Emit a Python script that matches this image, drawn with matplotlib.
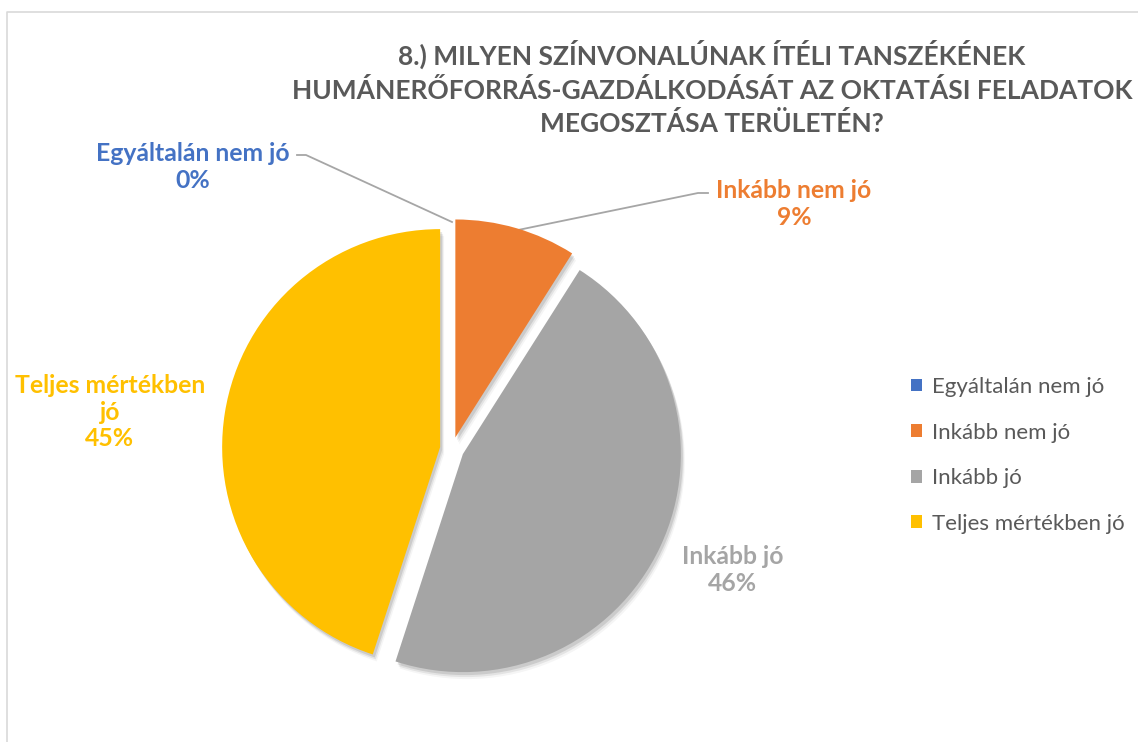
import matplotlib
matplotlib.use("Agg")
import matplotlib.pyplot as plt
from matplotlib.lines import Line2D
from matplotlib.patches import Patch, Wedge

categories = ["Egyáltalán nem jó", "Inkább nem jó", "Inkább jó", "Teljes mértékben jó"]
values = [0, 9, 46, 45]
colors = ["#4472C4", "#ED7D31", "#A5A5A5", "#FFC000"]
title_lines = ["8.) MILYEN SZÍNVONALÚNAK ÍTÉLI TANSZÉKÉNEK",
               "HUMÁNERŐFORRÁS-GAZDÁLKODÁSÁT AZ OKTATÁSI FELADATOK",
               "MEGOSZTÁSA TERÜLETÉN?"]

W, H = 1138, 742
fig = plt.figure(figsize=(W / 100, H / 100), dpi=100)
fig.patch.set_facecolor("white")
ax = fig.add_axes([0, 0, 1, 1])

FONT = "Lato"

def Y(y):
    return H - y

# pie
wedges, _ = ax.pie(values, colors=colors, startangle=90, counterclock=False,
                   center=(452, Y(449)), radius=218,
                   explode=[12] * len(values),
                   wedgeprops=dict(linewidth=0, zorder=3))
# soft shadow
for w in wedges:
    if w.theta2 - w.theta1 <= 0:
        continue
    for dx, dy, a in [(2, -3, 0.10), (3, -5, 0.07), (4, -7, 0.04)]:
        s = Wedge((w.center[0] + dx, w.center[1] + dy), w.r, w.theta1, w.theta2,
                  facecolor="black", alpha=a, linewidth=0, zorder=1)
        ax.add_patch(s)

ax.set_xlim(0, W)
ax.set_ylim(0, H)
ax.set_aspect("equal")
ax.axis("off")

# frame
ax.add_line(Line2D([7, 7, W], [Y(H), Y(12), Y(12)], color="#D9D9D9", lw=1.2))

# title
ax.text(712, Y(88), "\n".join(title_lines), ha="center", va="center",
        fontsize=19.0, fontweight="bold", color="#595959", family=FONT,
        linespacing=1.41)

# data labels
lab_fs = 17.8
def dlabel(x, y, i, lines):
    ax.text(x, Y(y), lines, ha="center", va="center", fontsize=lab_fs,
            fontweight="bold", color=colors[i], family=FONT, linespacing=1.18)

dlabel(193, 167, 0, f"{categories[0]}\n{values[0]}%")
dlabel(794, 204, 1, f"{categories[1]}\n{values[1]}%")
dlabel(733, 570, 2, f"{categories[2]}\n{values[2]}%")
dlabel(110, 412, 3, "Teljes mértékben\njó\n" + f"{values[3]}%")

# leader lines
ax.add_line(Line2D([297, 306, 452], [Y(155), Y(155), Y(222)], color="#A6A6A6", lw=1.3))
ax.add_line(Line2D([708, 698, 518], [Y(193), Y(193), Y(230)], color="#A6A6A6", lw=1.3))

# legend
handles = [Patch(facecolor=c, edgecolor="none") for c in colors]
leg = ax.legend(handles, categories, loc="upper left",
                bbox_to_anchor=(891 / W, 1 - 357 / H), frameon=False,
                prop=dict(family=FONT, size=16), labelcolor="#595959",
                handlelength=0.5, handleheight=0.5, handletextpad=0.45,
                labelspacing=1.15)

fig.savefig("out.png", dpi=100, facecolor="white")
